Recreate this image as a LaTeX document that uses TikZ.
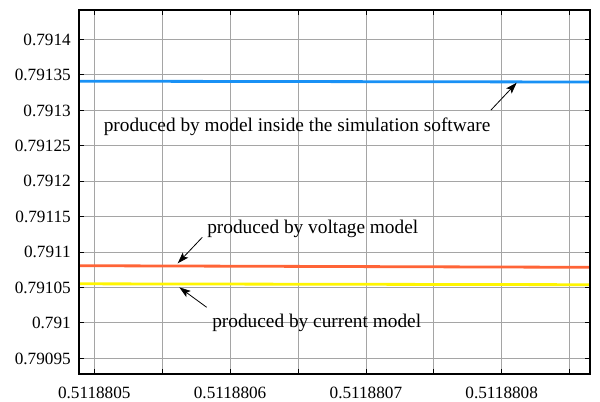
\documentclass[tikz,border=0pt]{standalone}
\usepackage{fontspec}
\setmainfont{Liberation Serif}
\usetikzlibrary{arrows.meta}
\definecolor{simblue}{RGB}{25,145,245}
\definecolor{voltorange}{RGB}{255,100,55}
\definecolor{curryellow}{RGB}{255,245,0}
\definecolor{gridgray}{RGB}{165,165,165}
\tikzset{
  gridline/.style={draw=gridgray, line width=0.6pt},
  tickmark/.style={draw=black, line width=0.6pt},
  axisbox/.style={draw=black, line width=0.8pt},
  datacurve/.style={line width=2.1pt},
  ticklabel/.style={inner sep=0pt, font=\fontsize{12.9}{15}\selectfont},
  annot/.style={inner sep=0pt, anchor=base west, font=\fontsize{14.5}{17}\selectfont},
  pointer/.style={draw=black, line width=0.6pt, -{Stealth[length=8.5pt,width=5.6pt,inset=1.8pt]}}
}
\begin{document}
\begin{tikzpicture}[x=0.75pt,y=-0.75pt]
\useasboundingbox (0,0) rectangle (600,401);
\fill[white] (0,0) rectangle (600,401);

% grid
\foreach \gx in {94.3,162.2,230.1,298.0,365.9,433.8,501.7,569.6}
  \draw[gridline] (\gx,10) -- (\gx,374);
\foreach \gy in {39.0,74.5,110.0,145.4,180.9,216.4,251.9,287.4,322.8,358.3}
  \draw[gridline] (79,\gy) -- (590,\gy);

% tick marks on all four sides
\foreach \gx in {94.3,162.2,230.1,298.0,365.9,433.8,501.7,569.6} {
  \draw[tickmark] (\gx,374) -- (\gx,369);
  \draw[tickmark] (\gx,10) -- (\gx,15);
}
\foreach \gy in {39.0,74.5,110.0,145.4,180.9,216.4,251.9,287.4,322.8,358.3} {
  \draw[tickmark] (79,\gy) -- (84,\gy);
  \draw[tickmark] (590,\gy) -- (585,\gy);
}

% y tick labels
\foreach \gy/\lab in {39.0/0.7914,74.5/0.79135,110.0/0.7913,145.4/0.79125,180.9/0.7912,
                      216.4/0.79115,251.9/0.7911,287.4/0.79105,322.8/0.791,358.3/0.79095}
  \node[ticklabel, anchor=base east] (yl\lab) at (71,\gy+6) {\lab};

% x tick labels
\foreach \gx/\lab in {94.3/0.5118805,230.1/0.5118806,365.9/0.5118807,501.7/0.5118808}
  \node[ticklabel, anchor=base] (xl\lab) at (\gx,398.3) {\lab};

% data curves
\draw[datacurve, simblue] (79,81.2) -- (590,82.0);
\draw[datacurve, voltorange] (79,265.7) -- (590,267.3);
\draw[datacurve, curryellow] (79,283.8) -- (590,284.7);

% axes box
\draw[axisbox] (79,10) rectangle (590,374);

% annotations
\node[annot] (simlabel) at (103.5,131) {produced by model inside the simulation software};
\node[annot] (voltlabel) at (207,233.3) {produced by voltage model};
\node[annot] (currlabel) at (212,327.7) {produced by current model};

\coordinate (simtail) at (491,110);
\coordinate (simtip) at (516.7,82.7);
\coordinate (volttail) at (202.3,237.3);
\coordinate (volttip) at (177.7,263.3);
\coordinate (currtail) at (206.7,307.3);
\coordinate (currtip) at (179.3,287.3);

\draw[pointer] (simtail) -- (simtip);
\draw[pointer] (volttail) -- (volttip);
\draw[pointer] (currtail) -- (currtip);
\end{tikzpicture}
\end{document}
